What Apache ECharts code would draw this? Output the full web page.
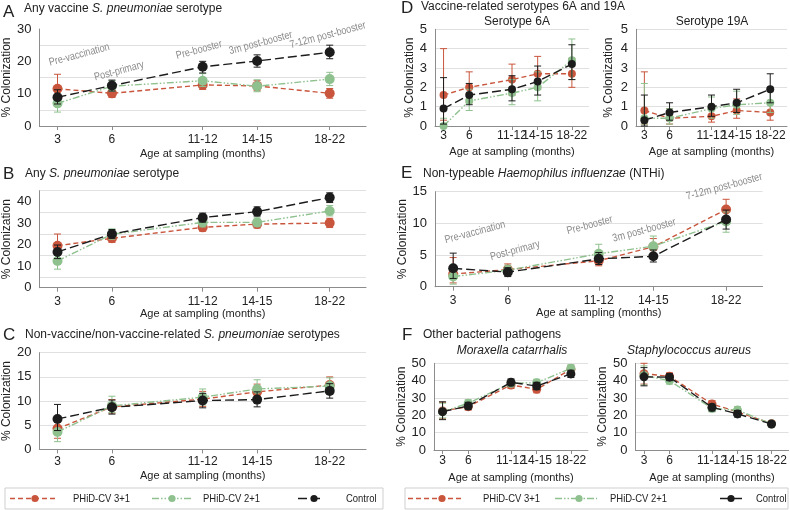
<!DOCTYPE html>
<html><head><meta charset="utf-8">
<script src="https://cdn.jsdelivr.net/npm/echarts@6/dist/echarts.min.js"></script>
<style>html,body{margin:0;padding:0;background:#fff}#c{width:790px;height:510px}</style>
</head><body><div id="c"></div>
<script>
// ---------- DATA ----------
const ages = [3, 6, 11, 14, 18];
const ageLabels = ['3', '6', '11-12', '14-15', '18-22'];
const seriesNames = ['PHiD-CV 3+1', 'PHiD-CV 2+1', 'Control'];

// A: Any vaccine S. pneumoniae serotype
const aR = [11.5, 10.1, 12.7, 12.4, 10.1];
const aRci = [[8.5,16.0],[8.8,11.5],[11.3,14.2],[10.9,14.0],[8.6,11.6]];
const aG = [7.0, 12.3, 14.0, 12.3, 14.5];
const aGci = [[4.3,9.8],[10.7,14.0],[12.2,16.2],[10.6,14.3],[12.5,16.6]];
const aC = [8.9, 12.5, 18.3, 20.1, 22.8];
const aCci = [[6.8,11.2],[10.8,14.2],[16.4,20.0],[18.2,22.0],[20.8,25.0]];

// B: Any S. pneumoniae serotype
const bR = [19.5, 22.9, 28.0, 29.5, 30.0];
const bRci = [[15.5,24.9],[21.0,24.6],[26.2,29.8],[27.7,31.3],[27.9,32.2]];
const bG = [12.4, 24.8, 30.3, 30.3, 35.6];
const bGci = [[8.6,15.8],[22.5,27.3],[28.2,32.5],[28.3,32.4],[33.3,38.1]];
const bC = [16.6, 24.9, 32.5, 35.3, 41.8];
const bCci = [[13.5,19.8],[22.9,27.0],[30.4,34.6],[33.2,37.5],[39.5,44.0]];

// C: Non-vaccine/non-vaccine-related serotypes
const cR = [4.3, 8.8, 10.4, 11.9, 13.3];
const cRci = [[2.3,6.8],[7.5,10.3],[8.9,12.0],[10.4,13.5],[11.7,15.0]];
const cG = [3.6, 9.0, 10.8, 12.5, 13.1];
const cGci = [[1.6,5.8],[7.6,11.0],[9.2,12.5],[10.8,14.4],[11.5,14.8]];
const cC = [6.3, 8.7, 10.1, 10.3, 12.1];
const cCci = [[3.9,9.3],[7.3,10.2],[8.6,11.6],[8.8,11.9],[10.6,13.6]];

// D: Serotype 6A
const d1R = [1.6, 2.0, 2.4, 2.7, 2.7];
const d1Rci = [[0.3,4.0],[1.2,2.8],[1.6,3.2],[1.9,3.6],[2.0,3.5]];
const d1G = [0.0, 1.3, 1.7, 2.0, 3.4];
const d1Gci = [[0.0,0.4],[0.8,1.9],[1.1,2.4],[1.3,2.8],[2.4,4.5]];
const d1C = [0.9, 1.6, 1.9, 2.3, 3.2];
const d1Cci = [[0.1,2.5],[1.1,2.2],[1.3,2.6],[1.6,3.1],[2.4,4.2]];

// D: Serotype 19A
const d2R = [0.8, 0.4, 0.5, 0.8, 0.7];
const d2Rci = [[0.1,2.8],[0.1,0.9],[0.2,1.0],[0.4,1.4],[0.3,1.2]];
const d2G = [0.4, 0.4, 0.9, 1.1, 1.2];
const d2Gci = [[0.1,2.2],[0.1,0.9],[0.4,1.5],[0.6,1.8],[0.7,1.8]];
const d2C = [0.3, 0.7, 1.0, 1.2, 1.9];
const d2Cci = [[0.0,1.6],[0.3,1.2],[0.5,1.6],[0.7,1.9],[1.2,2.7]];

// E: NTHi
const eR = [2.0, 2.7, 4.1, 6.3, 12.2];
const eRci = [[0.6,4.6],[2.0,3.6],[3.3,5.0],[5.1,7.6],[10.8,13.8]];
const eG = [1.6, 2.6, 5.2, 6.4, 10.3];
const eGci = [[0.4,3.3],[1.9,3.4],[4.1,6.7],[5.0,8.0],[8.6,11.8]];
const eC = [2.9, 2.3, 4.4, 4.8, 10.6];
const eCci = [[1.3,5.3],[1.6,3.0],[3.5,5.4],[3.9,5.8],[9.1,12.1]];

// F: Moraxella catarrhalis
const f1R = [22.5, 25.0, 37.5, 35.0, 46.5];
const f1Rci = [[18,27.5],[23,27],[35.5,39.5],[33,37],[44.5,48.5]];
const f1G = [22.0, 27.0, 38.5, 38.8, 47.1];
const f1Gci = [[18.5,27],[25,29],[36.5,40.5],[36.8,40.8],[45,49.2]];
const f1C = [22.1, 25.4, 39.0, 36.9, 43.9];
const f1Cci = [[17.5,27.8],[23.5,27.5],[37,41],[34.8,39],[41.8,46]];

// F: Staphylococcus aureus
const f2R = [44.0, 42.5, 26.5, 22.0, 15.2];
const f2Rci = [[38,50],[40.5,44.5],[24.5,28.5],[20,24],[14,16.5]];
const f2G = [43.0, 40.0, 24.0, 23.0, 15.0];
const f2Gci = [[37.5,48.5],[38,42],[22,26],[21,25],[14,16]];
const f2C = [42.2, 42.0, 24.6, 20.8, 15.0];
const f2Cci = [[37,47.5],[40,44],[22.5,26.5],[19,22.8],[13.8,16.3]];

// Phase annotations (A and E)
const annoTexts = ['Pre-vaccination', 'Post-primary', 'Pre-booster', '3m post-booster', '7-12m post-booster'];
const aAnnoX = [4.2, 6.4, 10.8, 14.2, 17.9];
const aAnnoY = [22.0, 17.0, 23.5, 25.7, 28.1];
const eAnnoX = [4.2, 6.4, 10.5, 13.5, 17.9];
const eAnnoY = [8.6, 5.7, 9.7, 8.9, 15.8];

// ---------- STYLE ----------
const RED = '#c9553c', GREEN = '#8fc18f', BLACK = '#1c1c1c';
const COLORS = [RED, GREEN, BLACK];
const DASHES = [[5, 3], [7, 2, 1.5, 2, 1.5, 2], [9, 4]];
const FONT = 'Liberation Sans, Arial, sans-serif';
const TXT = '#222';
const AXC = '#8c8c8c';
const GRIDC = '#e0e0e0';

const panels = [
  {grid:{left:36, top:29, width:330, height:97}, max:30, step:5, every:10, alt:true, lm:8, ng:22, yng:23, ss:10, d:[aR,aG,aC], ci:[aRci,aGci,aCci]},
  {grid:{left:36, top:190.7, width:330, height:97}, max:45, step:5, every:10, alt:true, lm:8, ng:20, yng:23, ss:10, d:[bR,bG,bC], ci:[bRci,bGci,bCci]},
  {grid:{left:36, top:352.7, width:330, height:96.7}, max:20, step:5, every:5, alt:false, lm:6, ng:21, yng:23, ss:10, d:[cR,cG,cC], ci:[cRci,cGci,cCci]},
  {grid:{left:435, top:29.3, width:154, height:96.7}, max:5, step:1, every:1, alt:false, lm:4, ng:20, yng:18, ss:8, d:[d1R,d1G,d1C], ci:[d1Rci,d1Gci,d1Cci]},
  {grid:{left:636, top:29.3, width:151, height:96.7}, max:5, step:1, every:1, alt:false, lm:4, ng:20, yng:21, ss:8, d:[d2R,d2G,d2C], ci:[d2Rci,d2Gci,d2Cci]},
  {grid:{left:435, top:191.7, width:327.5, height:95}, max:15, step:5, every:5, alt:false, lm:8, ng:21, yng:21, ss:10, d:[eR,eG,eC], ci:[eRci,eGci,eCci]},
  {grid:{left:434, top:363.3, width:154, height:86.7}, max:50, step:10, every:10, alt:false, lm:5, ng:22, yng:20, ss:9, d:[f1R,f1G,f1C], ci:[f1Rci,f1Gci,f1Cci]},
  {grid:{left:635.5, top:363.3, width:153, height:86.7}, max:50, step:10, every:10, alt:false, lm:5, ng:22, yng:22, ss:9, d:[f2R,f2G,f2C], ci:[f2Rci,f2Gci,f2Cci]}
];

function errSeries(gi, ci, color, z) {
  return {
    type: 'custom', xAxisIndex: gi, yAxisIndex: gi, z: z, silent: true, clip: false,
    data: ages.map((a, i) => [a, ci[i][0], ci[i][1]]),
    encode: {x: 0, y: [1, 2]},
    renderItem: function (params, api) {
      const lo = api.coord([api.value(0), api.value(1)]);
      const hi = api.coord([api.value(0), api.value(2)]);
      const w = 3.5;
      const st = {stroke: color, lineWidth: 1};
      return {type: 'group', children: [
        {type: 'line', shape: {x1: lo[0], y1: lo[1], x2: hi[0], y2: hi[1]}, style: st},
        {type: 'line', shape: {x1: lo[0] - w, y1: lo[1], x2: lo[0] + w, y2: lo[1]}, style: st},
        {type: 'line', shape: {x1: hi[0] - w, y1: hi[1], x2: hi[0] + w, y2: hi[1]}, style: st}
      ]};
    }
  };
}

function annoSeries(gi, xs, ys) {
  return {
    type: 'custom', xAxisIndex: gi, yAxisIndex: gi, z: 1, silent: true, clip: false,
    data: xs.map((x, i) => [x, ys[i], i]),
    encode: {x: 0, y: 1},
    renderItem: function (params, api) {
      const p = api.coord([api.value(0), api.value(1)]);
      return {type: 'text', x: p[0], y: p[1], rotation: 15 * Math.PI / 180, scaleX: 0.82,
        style: {text: annoTexts[api.value(2)], fill: '#8a8a8a', font: '11px ' + FONT, align: 'center', verticalAlign: 'middle'}};
    }
  };
}

const series = [];
panels.forEach((p, gi) => {
  for (let k = 0; k < 3; k++) {
    series.push(errSeries(gi, p.ci[k], COLORS[k], 2 + 2 * k));
    series.push({
      type: 'line', name: seriesNames[k], xAxisIndex: gi, yAxisIndex: gi, z: 3 + 2 * k,
      data: ages.map((a, i) => [a, p.d[k][i]]),
      symbol: 'circle', symbolSize: p.ss, showSymbol: true,
      lineStyle: {color: COLORS[k], width: 1.4, type: DASHES[k]},
      itemStyle: {color: COLORS[k], borderWidth: 0},
      emphasis: {disabled: true}, animation: false
    });
  }
});
series.push(annoSeries(0, aAnnoX, aAnnoY));
series.push(annoSeries(5, eAnnoX, eAnnoY));

const titleBase = {padding: 0, textStyle: {fontFamily: FONT, fontWeight: 'normal', color: TXT, fontSize: 12,
  rich: {i: {fontFamily: FONT, fontStyle: 'italic', fontSize: 12, color: TXT}, n: {fontFamily: FONT, fontSize: 12, color: TXT}}}};
function letter(t, l, tp) { return {text: t, left: l, top: tp, padding: 0, textStyle: {fontFamily: FONT, fontWeight: 'normal', color: TXT, fontSize: 17}}; }
function sub(t, l, tp) { return Object.assign({}, titleBase, {text: t, left: l, top: tp}); }

const titles = [
  letter('A', 3, 4), sub('{n|Any vaccine }{i|S. pneumoniae}{n| serotype}', 24, 3),
  letter('B', 3, 166), sub('{n|Any }{i|S. pneumoniae}{n| serotype}', 25, 168),
  letter('C', 3, 327), sub('{n|Non-vaccine/non-vaccine-related }{i|S. pneumoniae}{n| serotypes}', 25, 329),
  letter('D', 401, 0), sub('{n|Vaccine-related serotypes 6A and 19A}', 421, 1),
  letter('E', 401, 165), sub('{n|Non-typeable }{i|Haemophilus influenzae}{n| (NTHi)}', 423, 168),
  letter('F', 402, 327), sub('{n|Other bacterial pathogens}', 423, 329)
];

function gtext(x, y, t, italic) {
  return {type: 'text', x: x, y: y, silent: true,
    style: {text: t, fill: TXT, font: (italic ? 'italic ' : '') + '12px ' + FONT, align: 'center', verticalAlign: 'middle'}};
}
function legendGroup(x0, x1, items) {
  const els = [{type: 'rect', shape: {x: x0, y: 488, width: x1 - x0, height: 21}, style: {fill: 'none', stroke: '#cfcfcf', lineWidth: 1}, silent: true}];
  items.forEach((it, k) => {
    els.push({type: 'line', shape: {x1: it.l0, y1: 498.5, x2: it.l1, y2: 498.5}, style: {stroke: COLORS[k], lineWidth: 1.4, lineDash: DASHES[k]}, silent: true});
    els.push({type: 'circle', shape: {cx: it.m, cy: 498.5, r: 3.6}, style: {fill: COLORS[k]}, silent: true});
    els.push({type: 'text', x: it.t, y: 498.5, scaleX: 0.86, style: {text: seriesNames[k], fill: TXT, font: '11px ' + FONT, align: 'left', verticalAlign: 'middle'}, silent: true});
  });
  return els;
}

const graphics = [
  gtext(517, 22, 'Serotype 6A', false),
  gtext(712, 22, 'Serotype 19A', false),
  gtext(512, 351, 'Moraxella catarrhalis', true),
  gtext(689, 351, 'Staphylococcus aureus', true)
].concat(
  legendGroup(5, 383, [{l0: 10, l1: 56, m: 35, t: 73}, {l0: 152, l1: 192, m: 172, t: 203}, {l0: 298, l1: 324, m: 314, t: 346}]),
  legendGroup(405, 788, [{l0: 408, l1: 462, m: 442, t: 483}, {l0: 555, l1: 597, m: 579, t: 610}, {l0: 720, l1: 746, m: 731, t: 756}])
);

const option = {
  animation: false,
  backgroundColor: '#fff',
  textStyle: {fontFamily: FONT},
  title: titles,
  grid: panels.map(p => Object.assign({containLabel: false}, p.grid)),
  xAxis: panels.map((p, i) => ({
    type: 'value', gridIndex: i, min: 2, max: 20,
    axisLine: {show: true, onZero: false, lineStyle: {color: AXC, width: 1}},
    axisTick: {show: true, customValues: ages, length: 4, lineStyle: {color: AXC}},
    axisLabel: {customValues: ages, fontSize: 12, color: TXT, margin: p.lm, fontFamily: FONT,
      formatter: v => { const j = ages.indexOf(Math.round(v)); return j >= 0 ? ageLabels[j] : ''; }},
    splitLine: {show: false},
    name: 'Age at sampling (months)', nameLocation: 'middle', nameGap: p.ng,
    nameTextStyle: {fontSize: 11, color: TXT, fontFamily: FONT}
  })),
  yAxis: panels.map((p, i) => ({
    type: 'value', gridIndex: i, min: 0, max: p.max, interval: p.step,
    axisLine: {show: true, lineStyle: {color: AXC, width: 1}},
    axisTick: {show: false},
    axisLabel: {fontSize: 13, color: TXT, margin: 8, fontFamily: FONT,
      formatter: v => (Math.round(v) % p.every === 0 ? String(v) : '')},
    splitLine: {show: true, showMinLine: true, showMaxLine: true,
      lineStyle: {color: p.alt ? ['rgba(0,0,0,0)', GRIDC] : GRIDC, width: 1}},
    name: '% Colonization', nameLocation: 'middle', nameGap: p.yng,
    nameTextStyle: {fontSize: 12, color: TXT, fontFamily: FONT}
  })),
  graphic: graphics,
  series: series
};

const chart = echarts.init(document.getElementById('c'), null, {renderer: 'canvas', width: 790, height: 510});
chart.setOption(option);
</script>
</body></html>
